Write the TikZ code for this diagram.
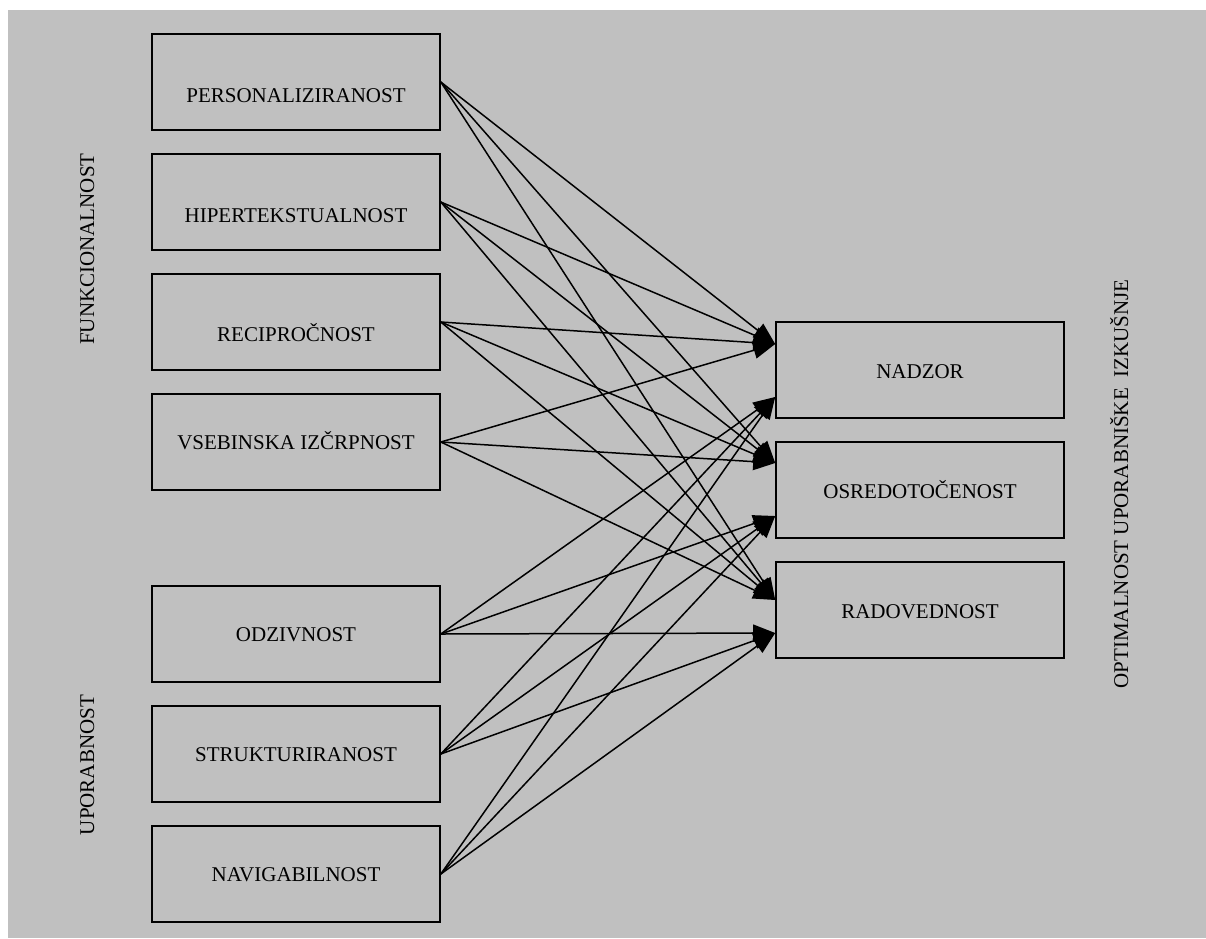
\documentclass[tikz,border=0pt]{standalone}
\usepackage{fontspec}
\setmainfont{Liberation Serif}
\usetikzlibrary{arrows.meta}
\definecolor{panel}{RGB}{192,192,192}
\begin{document}
\begin{tikzpicture}[x=1pt,y=-1pt,
  font=\fontsize{21}{25}\selectfont,
  box/.style={draw=black,line width=1.6pt,rectangle,minimum width=288pt,minimum height=96pt,inner sep=0pt},
  lbl/.style={inner sep=0pt,text height=14pt,text depth=0pt},
  side/.style={inner sep=0pt,rotate=90,text height=14pt,text depth=0pt},
  link/.style={line width=1.5pt,-{Triangle[length=22pt,width=17pt]}}]
\useasboundingbox (0,0) rectangle (1206,938);
\fill[panel] (8,10) rectangle (1206,938);

% influencing factors
\node[box] (pers) at (296,82) {};
\node[lbl] at ([yshift=-13pt]pers.center) {PERSONALIZIRANOST};
\node[box] (hiper) at (296,202) {};
\node[lbl] at ([yshift=-13pt]hiper.center) {HIPERTEKSTUALNOST};
\node[box] (recip) at (296,322) {};
\node[lbl] at ([yshift=-12pt]recip.center) {RECIPROČNOST};
\node[box] (vseb) at (296,442) {};
\node[lbl] at (vseb.center) {VSEBINSKA IZČRPNOST};
\node[box] (odziv) at (296,634) {};
\node[lbl] at (odziv.center) {ODZIVNOST};
\node[box] (strukt) at (296,754) {};
\node[lbl] at (strukt.center) {STRUKTURIRANOST};
\node[box] (navig) at (296,874) {};
\node[lbl] at (navig.center) {NAVIGABILNOST};

% experience dimensions
\node[box] (nadzor) at (920,370) {};
\node[lbl] at ([yshift=-1pt]nadzor.center) {NADZOR};
\node[box] (osred) at (920,490) {};
\node[lbl] at ([yshift=-1pt]osred.center) {OSREDOTOČENOST};
\node[box] (radov) at (920,610) {};
\node[lbl] at ([yshift=-1pt]radov.center) {RADOVEDNOST};

% group labels
\node[side] (funk) at (87,249) {FUNKCIONALNOST};
\node[side] (upor) at (87,765) {UPORABNOST};
\node[side] (optim) at (1121,484) {OPTIMALNOST UPORABNIŠKE\ \ IZKUŠNJE};

% entry points on the target boxes (shifts are in canvas direction, up = positive)
\coordinate (nadzorA) at ([yshift=26pt]nadzor.west);
\coordinate (nadzorB) at ([yshift=-27pt]nadzor.west);
\coordinate (osredA) at ([yshift=27pt]osred.west);
\coordinate (osredB) at ([yshift=-26pt]osred.west);
\coordinate (radovA) at ([yshift=10pt]radov.west);
\coordinate (radovB) at ([yshift=-23pt]radov.west);

% connectors
\foreach \s in {pers,hiper,recip,vseb}{
  \draw[link] (\s.east) -- (nadzorA);
  \draw[link] (\s.east) -- (osredA);
  \draw[link] (\s.east) -- (radovA);
}
\foreach \s in {odziv,strukt,navig}{
  \draw[link] (\s.east) -- (nadzorB);
  \draw[link] (\s.east) -- (osredB);
  \draw[link] (\s.east) -- (radovB);
}
\end{tikzpicture}
\end{document}
